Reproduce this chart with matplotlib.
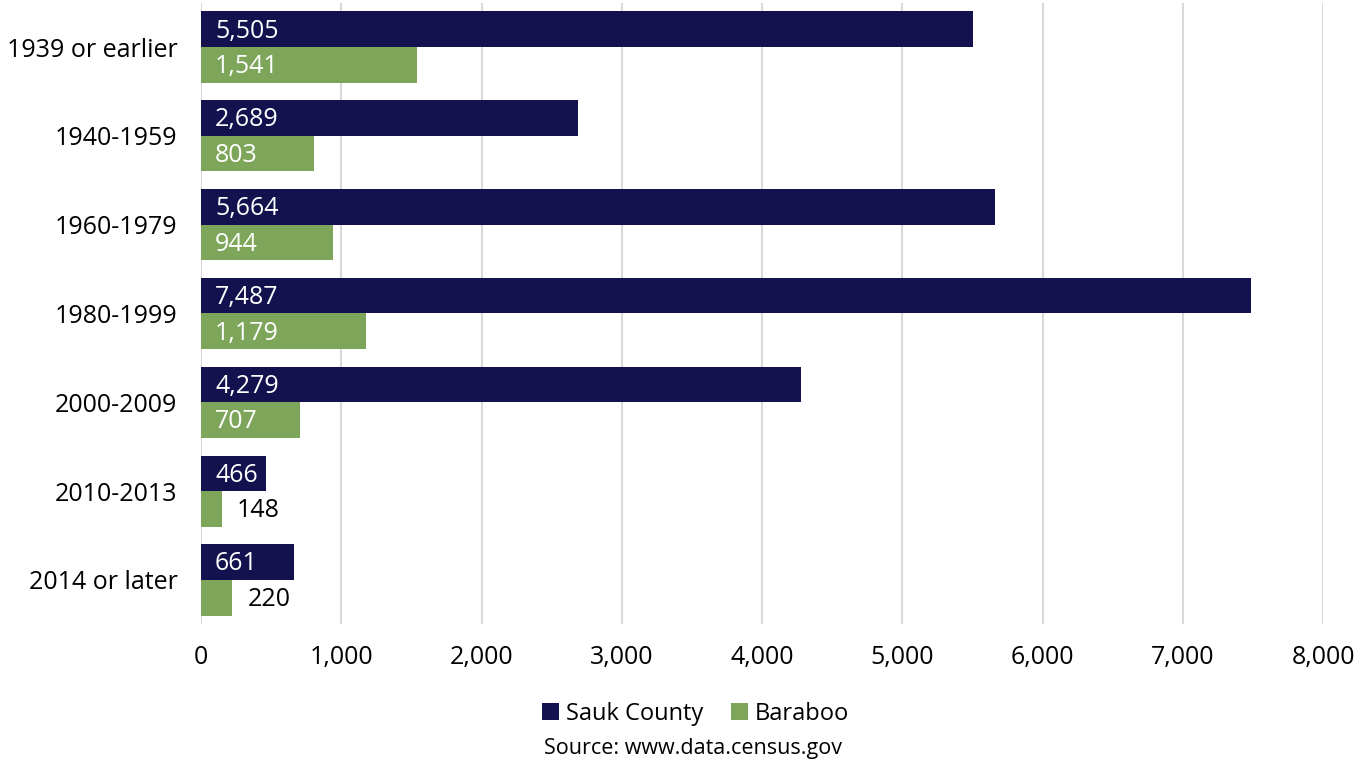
import numpy as np
import matplotlib
matplotlib.use('Agg')
from matplotlib import pyplot as plt
from matplotlib.ticker import FuncFormatter

plt.rcParams['font.family'] = ['Open Sans', 'DejaVu Sans']

# housing units by year built
periods = ['1939 or earlier', '1940-1959', '1960-1979', '1980-1999',
           '2000-2009', '2010-2013', '2014 or later']
sauk = [5505, 2689, 5664, 7487, 4279, 466, 661]
baraboo = [1541, 803, 944, 1179, 707, 148, 220]

navy = '#13124f'
green = '#7ea65a'

fig = plt.figure(figsize=(13.72, 7.61), dpi=100)
ax = fig.add_axes([0.1465, 0.1795, 0.8178, 0.8171])

y = np.arange(len(periods))
h = 0.4
b1 = ax.barh(y - h / 2, sauk, height=h, color=navy, label='Sauk County', zorder=3)
b2 = ax.barh(y + h / 2, baraboo, height=h, color=green, label='Baraboo', zorder=3)

# value labels: inside the bar when it fits, otherwise just past the end
for bars, vals in ((b1, sauk), (b2, baraboo)):
    for bar, v in zip(bars, vals):
        yc = bar.get_y() + bar.get_height() / 2 + 0.02
        if v >= 300:
            ax.text(100, yc, f'{v:,}', color='white', va='center', ha='left',
                    fontsize=18, zorder=4)
        else:
            ax.text(v + 110, yc, f'{v:,}', color='black', va='center', ha='left',
                    fontsize=18, zorder=4)

ax.set_xlim(0, 8000)
ax.set_ylim(len(periods) - 0.5, -0.5)
ax.set_xticks(np.arange(0, 8001, 1000))
ax.xaxis.set_major_formatter(FuncFormatter(lambda v, p: f'{int(v):,}'))
ax.set_yticks(y)
ax.set_yticklabels(periods)
ax.tick_params(axis='both', length=0, labelsize=18, colors='black')
ax.tick_params(axis='x', pad=15)
ax.tick_params(axis='y', pad=17)
ax.grid(axis='x', color='#d9d9d9', linewidth=1.5, zorder=0)
for s in ax.spines.values():
    s.set_visible(False)

fig.legend(loc='center', bbox_to_anchor=(0.507, 0.062), ncol=2, frameon=False,
           fontsize=17, handlelength=0.7, handleheight=0.7, handletextpad=0.3,
           columnspacing=1.2)
fig.text(0.505, 0.017, 'Source: www.data.census.gov', ha='center', va='center',
         fontsize=15.5)

fig.savefig('out.png', dpi=100)
